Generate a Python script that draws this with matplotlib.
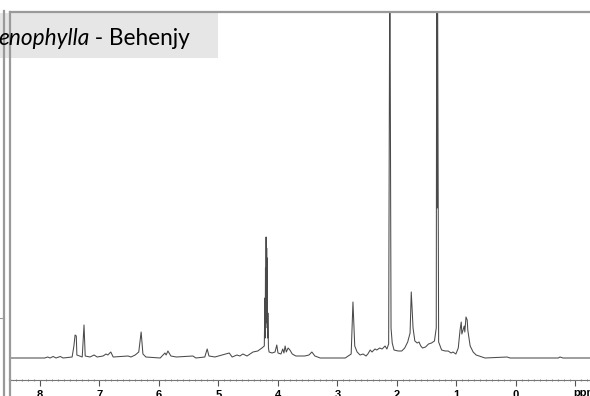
import matplotlib
matplotlib.use('Agg')
import matplotlib.pyplot as plt
from matplotlib.lines import Line2D
from matplotlib.patches import Rectangle
from matplotlib.text import Annotation
from matplotlib.ticker import MultipleLocator

# spectrum: chemical shift (ppm) and intensity (px above baseline)
ppm = [8.50, 7.92, 7.87, 7.83, 7.78, 7.73, 7.66, 7.61, 7.46, 7.43, 7.41, 7.39, 7.38,
       7.29, 7.26, 7.24, 7.16, 7.09, 7.04, 6.94, 6.89, 6.86, 6.81, 6.77, 6.52, 6.47,
       6.40, 6.34, 6.30, 6.27, 6.22, 5.98, 5.90, 5.88, 5.85, 5.80, 5.71, 5.43, 5.38,
       5.23, 5.19, 5.16, 5.06, 4.82, 4.77, 4.69, 4.64, 4.59, 4.52, 4.42, 4.34, 4.27,
       4.23, 4.22, 4.215, 4.21, 4.205, 4.20, 4.195, 4.19, 4.185, 4.18, 4.175, 4.17,
       4.16, 4.15, 4.10, 4.05, 4.02, 4.00, 3.95, 3.92, 3.90, 3.88, 3.86, 3.83, 3.80,
       3.76, 3.70, 3.55, 3.48, 3.43, 3.38, 3.29, 2.87, 2.82, 2.77, 2.75, 2.74, 2.72,
       2.71, 2.67, 2.62, 2.57, 2.52, 2.49, 2.45, 2.42, 2.37, 2.34, 2.29, 2.25, 2.20,
       2.17, 2.14, 2.12, 2.10, 2.08, 2.05, 1.98, 1.92, 1.87, 1.82, 1.78, 1.76, 1.73,
       1.70, 1.66, 1.63, 1.60, 1.57, 1.52, 1.47, 1.42, 1.37, 1.34, 1.332, 1.325, 1.32,
       1.30, 1.25, 1.19, 1.14, 1.09, 1.06, 1.01, 0.97, 0.94, 0.92, 0.91, 0.89, 0.87,
       0.86, 0.84, 0.82, 0.81, 0.77, 0.72, 0.67, 0.62, 0.52, 0.15, 0.10, -0.71,
       -0.74, -0.79, -1.24]
intensity = [0, 0, 1, 0, 1.5, 0, 1.5, 0, 1, 12, 23, 22, 3,
             1, 33, 2, 1, 3, 1, 2, 4, 3, 6, 1, 2, 1,
             3, 6, 26, 4, 1, 0, 5, 3, 7, 2, 1, 2, 0,
             1, 9, 2, 1, 5, 1, 3, 2, 4, 2, 6, 7, 10,
             12, 60, 20, 90, 30, 121, 40, 110, 35, 100, 20, 45,
             10, 6, 5, 6, 13, 5, 4, 9, 5, 12, 6, 10, 8,
             4, 2, 2, 3, 6, 2, 0, 0, 2, 4, 40, 56, 25,
             12, 6, 3, 4, 2, 4, 8, 6, 9, 8, 10, 9, 12,
             9, 14, 420, 30, 15, 8, 7, 7, 10, 16, 25, 66, 30,
             17, 15, 16, 12, 10, 11, 14, 15, 17, 30, 420, 150, 420,
             16, 8, 7, 7, 5, 6, 4, 10, 28, 36, 24, 28, 32,
             26, 41, 38, 28, 12, 6, 3, 2, 0, 1, 0, 0,
             1, 0, 0]

major_ticks = [8, 7, 6, 5, 4, 3, 2, 1, 0]
tick_labels = ['8', '7', '6', '5', '4', '3', '2', '1', '0']
title_species = 'enophylla'
title_site = ' - Behenjy'

W, H = 590, 396
fig = plt.figure(figsize=(W / 100, H / 100), dpi=100)
fig.patch.set_facecolor('white')

# title box (drawn under the axes)
fig.add_artist(Rectangle((0, 1 - 58 / H), 218 / W, 45 / H, facecolor='#e6e6e6',
                         edgecolor='none', transform=fig.transFigure, zorder=-1))

# axes from x=10 to the right edge, x-axis line at y=380, top frame at y=12
ax = fig.add_axes([10 / W, 16 / H, 580 / W, 368 / H])
ax.patch.set_alpha(0)
ax.plot(ppm, intensity, color='#4a4a4a', lw=0.75)
ax.set_xlim(8.504, -1.244)
ax.set_ylim(-22, 346)

frame = '#9a9a9a'
ax.spines['right'].set_visible(False)
ax.spines['top'].set_color(frame)
ax.spines['top'].set_linewidth(1.6)
ax.spines['left'].set_color(frame)
ax.spines['left'].set_linewidth(1.6)
ax.spines['bottom'].set_color('#777777')
ax.spines['bottom'].set_linewidth(0.8)

ax.set_yticks([])
ax.xaxis.set_minor_locator(MultipleLocator(0.1))
ax.set_xticks(major_ticks + [-1])
ax.set_xticklabels(tick_labels + [''], fontfamily='Liberation Sans',
                   fontweight='bold', fontsize=8)
ax.tick_params(axis='x', which='major', direction='out', length=4, width=0.8,
               color='#555555', pad=3.5)
ax.tick_params(axis='x', which='minor', direction='inout', length=2, width=0.6,
               color='#777777')
ax.text(-0.96, -30, 'ppm', ha='left', va='top', fontfamily='Liberation Sans',
        fontweight='bold', fontsize=8, clip_on=False)

# outer frame line on the far left
fig.add_artist(Line2D([3.5 / W, 3.5 / W], [0, 1 - 11 / H], color=frame, lw=1.6))
fig.add_artist(Line2D([0, 3.5 / W], [1 - 318 / H, 1 - 318 / H], color=frame, lw=0.8))
fig.add_artist(Line2D([10 / W, 10 / W], [0, 16 / H], color=frame, lw=1.6))

# title text: italic species name followed by the site name
t1 = fig.text(-2 / W, 1 - 45 / H, title_species, fontfamily='Lato', style='italic',
              fontsize=16.3, va='baseline', ha='left', zorder=3)
fig.add_artist(Annotation(title_site, xy=(1, 0), xycoords=t1, va='bottom',
                          ha='left', fontfamily='Lato', fontsize=16.3, zorder=3))

plt.savefig('out.png', dpi=100)
